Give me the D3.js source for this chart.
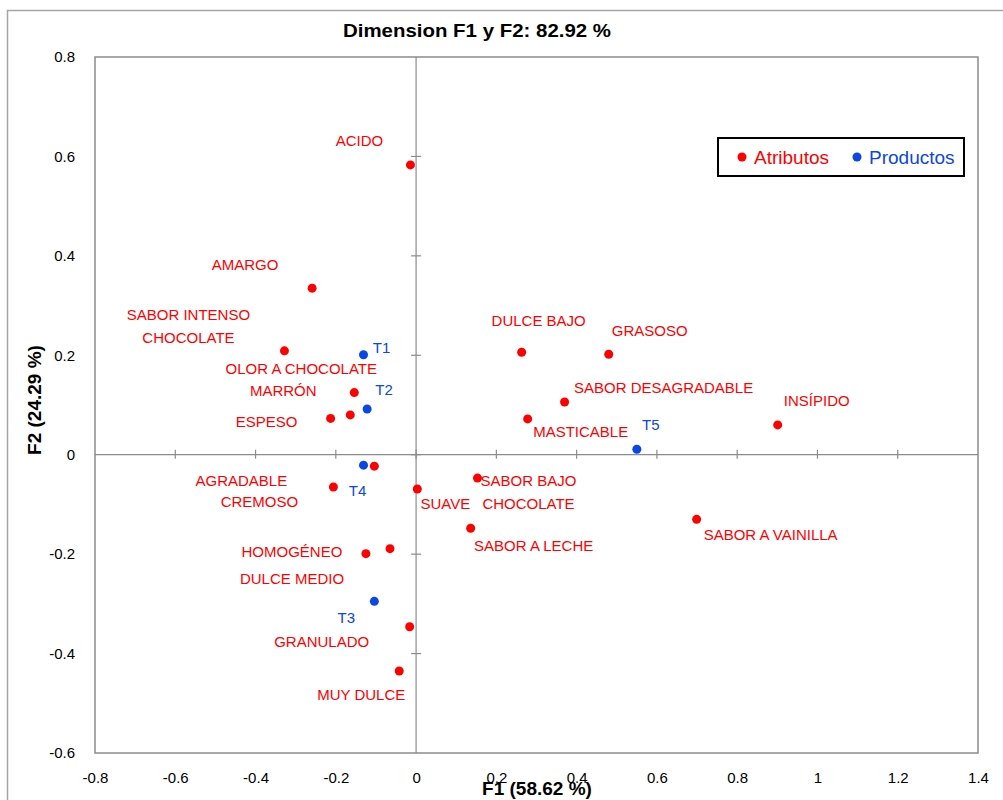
<!DOCTYPE html>
<html>
<head>
<meta charset="utf-8">
<script src="https://cdn.jsdelivr.net/npm/d3@7"></script>
<style>
  body { margin: 0; background: #fff; }
  svg { display: block; }
</style>
</head>
<body>
<script>
// atributos (red) and productos (blue): F1, F2 coordinates
var attrNames = ["ACIDO", "AMARGO", "SABOR INTENSO\nCHOCOLATE", "DULCE BAJO", "GRASOSO",
  "OLOR A CHOCOLATE", "MARRÓN", "ESPESO", "SABOR DESAGRADABLE", "MASTICABLE", "INSÍPIDO",
  "AGRADABLE", "CREMOSO", "SUAVE", "SABOR BAJO\nCHOCOLATE", "SABOR A LECHE", "SABOR A VAINILLA",
  "HOMOGÉNEO", "DULCE MEDIO", "GRANULADO", "MUY DULCE"];
var attrF1 = [-0.014, -0.259, -0.328, 0.263, 0.480, -0.154, -0.164, -0.213, 0.370, 0.278, 0.901,
  -0.104, -0.206, 0.003, 0.153, 0.136, 0.699, -0.125, -0.065, -0.016, -0.042];
var attrF2 = [0.583, 0.335, 0.209, 0.206, 0.202, 0.125, 0.080, 0.073, 0.106, 0.072, 0.060,
  -0.023, -0.065, -0.069, -0.047, -0.148, -0.130, -0.199, -0.189, -0.346, -0.435];

var prodNames = ["T1", "T2", "T4", "T3", "T5"];
var prodF1 = [-0.131, -0.122, -0.131, -0.104, 0.550];
var prodF2 = [0.201, 0.092, -0.021, -0.295, 0.011];

var xTicks = [-0.8, -0.6, -0.4, -0.2, 0, 0.2, 0.4, 0.6, 0.8, 1, 1.2, 1.4];
var yTicks = [-0.6, -0.4, -0.2, 0, 0.2, 0.4, 0.6, 0.8];

// where each data label sits, relative to its point (pixels)
var attrLabelOff = [[-51, -24], [-67, -23], [-96, -36], [17, -32], [41, -24],
  [-53, -24], [-67, -24], [-64, 3], [99, -14], [53, 13], [39, -24],
  [-133, 15], [-74, 15], [28, 15], [51, 3], [63, 17], [74, 15],
  [-74, -2], [-98, 30], [-88, 15], [-38, 24]];
var prodLabelOff = [[18, -7], [17, -19], [-6, 26], [-28, 16], [14, -24]];

var red = "#ff0000", blue = "#0b46e6";
var W = 1003, H = 800;
var margin = {left: 95, right: 25, top: 57, bottom: 47};

var svg = d3.select("body").append("svg")
    .attr("width", W)
    .attr("height", H)
    .style("font-family", "'Liberation Sans', Arial, sans-serif");

// chart frame
svg.append("path")
    .attr("d", "M7.5," + (H + 5) + "V10.5H" + (W + 5))
    .attr("fill", "none")
    .attr("stroke", "#a6a6a6")
    .attr("stroke-width", 1.5);

var x = d3.scaleLinear().domain([-0.8, 1.4]).range([margin.left, W - margin.right]);
var y = d3.scaleLinear().domain([-0.6, 0.8]).range([H - margin.bottom, margin.top]);
var fmt = function(d) { return String(+d.toFixed(1)); };

svg.append("text")
    .attr("x", 477)
    .attr("y", 37)
    .attr("text-anchor", "middle")
    .attr("font-weight", "bold")
    .attr("font-size", 18)
    .attr("textLength", 268)
    .attr("lengthAdjust", "spacingAndGlyphs")
    .text("Dimension F1 y F2: 82.92 %");

// plot border
svg.append("rect")
    .attr("x", x(-0.8))
    .attr("y", y(0.8))
    .attr("width", x(1.4) - x(-0.8))
    .attr("height", y(-0.6) - y(0.8))
    .attr("fill", "none")
    .attr("stroke", "#8c8c8c")
    .attr("stroke-width", 1.5);

// zero axes
var axisColor = "#8c8c8c";
svg.append("line")
    .attr("x1", x(-0.8)).attr("x2", x(1.4))
    .attr("y1", y(0)).attr("y2", y(0))
    .attr("stroke", axisColor).attr("stroke-width", 1.2);
svg.append("line")
    .attr("x1", x(0)).attr("x2", x(0))
    .attr("y1", y(0.8)).attr("y2", y(-0.6))
    .attr("stroke", axisColor).attr("stroke-width", 1.2);

svg.append("g").selectAll("line")
    .data(xTicks.filter(function(d) { return d > -0.8 && d < 1.4; }))
    .enter().append("line")
    .attr("x1", function(d) { return x(d); })
    .attr("x2", function(d) { return x(d); })
    .attr("y1", y(0) - 5)
    .attr("y2", y(0) + 4)
    .attr("stroke", axisColor).attr("stroke-width", 1.2);

svg.append("g").selectAll("line")
    .data(yTicks.filter(function(d) { return d > -0.6 && d < 0.8; }))
    .enter().append("line")
    .attr("y1", function(d) { return y(d); })
    .attr("y2", function(d) { return y(d); })
    .attr("x1", x(0) - 5)
    .attr("x2", x(0) + 5)
    .attr("stroke", axisColor).attr("stroke-width", 1.2);

// tick labels through d3 axes
var xAxis = svg.append("g")
    .attr("transform", "translate(0," + (H - margin.bottom + 16) + ")")
    .call(d3.axisBottom(x).tickValues(xTicks).tickFormat(fmt).tickSize(0));
var yAxis = svg.append("g")
    .attr("transform", "translate(" + (margin.left - 17) + ",0)")
    .call(d3.axisLeft(y).tickValues(yTicks).tickFormat(fmt).tickSize(0));
[xAxis, yAxis].forEach(function(a) {
  a.select(".domain").remove();
  a.selectAll("text")
      .attr("font-family", "'Liberation Sans', Arial, sans-serif")
      .attr("font-size", 15)
      .attr("fill", "#000");
});

// axis titles
svg.append("text")
    .attr("x", 537)
    .attr("y", 795)
    .attr("text-anchor", "middle")
    .attr("font-weight", "bold")
    .attr("font-size", 19)
    .attr("font-family", "'Liberation Sans Narrow', 'Liberation Sans', sans-serif")
    .text("F1 (58.62 %)");
svg.append("text")
    .attr("transform", "translate(41,400) rotate(-90)")
    .attr("text-anchor", "middle")
    .attr("font-weight", "bold")
    .attr("font-size", 19)
    .attr("font-family", "'Liberation Sans Narrow', 'Liberation Sans', sans-serif")
    .text("F2 (24.29 %)");

// points and labels
function drawSeries(names, f1, f2, offs, color) {
  var g = svg.append("g");
  g.selectAll("circle")
      .data(names)
      .enter().append("circle")
      .attr("cx", function(d, i) { return x(f1[i]); })
      .attr("cy", function(d, i) { return y(f2[i]); })
      .attr("r", 4.5)
      .attr("fill", color);
  var t = g.selectAll("text")
      .data(names)
      .enter().append("text")
      .attr("text-anchor", "middle")
      .attr("font-size", 15)
      .attr("fill", color)
      .attr("x", function(d, i) { return x(f1[i]) + offs[i][0]; })
      .attr("y", function(d, i) { return y(f2[i]) + offs[i][1]; });
  t.each(function(d) {
    var el = d3.select(this);
    var lines = d.split("\n");
    lines.forEach(function(line, k) {
      el.append("tspan")
          .attr("x", el.attr("x"))
          .attr("dy", k === 0 ? "0.35em" : 23)
          .text(line);
    });
  });
}
drawSeries(attrNames, attrF1, attrF2, attrLabelOff, red);
drawSeries(prodNames, prodF1, prodF2, prodLabelOff, blue);

// legend
var leg = svg.append("g").attr("transform", "translate(718,138)");
leg.append("rect")
    .attr("width", 246).attr("height", 38)
    .attr("fill", "#fff").attr("stroke", "#000").attr("stroke-width", 2);
var legItems = [{name: "Atributos", color: red, x: 24}, {name: "Productos", color: blue, x: 139}];
legItems.forEach(function(it) {
  leg.append("circle").attr("cx", it.x).attr("cy", 19).attr("r", 4.5).attr("fill", it.color);
  leg.append("text")
      .attr("x", it.x + 12).attr("y", 19).attr("dy", "0.35em")
      .attr("font-size", 19).attr("fill", it.color)
      .text(it.name);
});
</script>
</body>
</html>
